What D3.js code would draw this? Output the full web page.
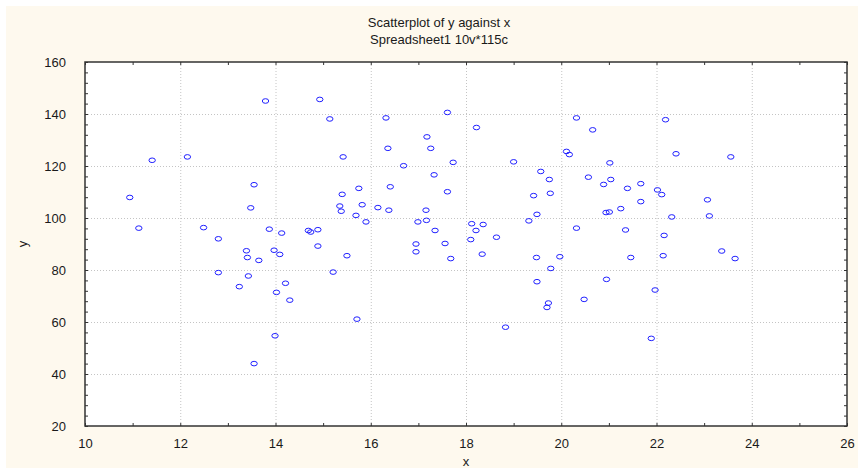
<!DOCTYPE html>
<html>
<head>
<meta charset="utf-8">
<script src="https://cdn.jsdelivr.net/npm/d3@7"></script>
<style>
  html, body { margin: 0; padding: 0; background: #fff; }
  svg text { font-family: "Liberation Sans", Arial, sans-serif; fill: #1a1a1a; }
</style>
</head>
<body>
<div id="chart"></div>
<script>
const titleLines = ["Scatterplot of y against x", "Spreadsheet1 10v*115c"];
const xLabel = "x";
const yLabel = "y";

const xTicks = [10, 12, 14, 16, 18, 20, 22, 24, 26];
const yTicks = [20, 40, 60, 80, 100, 120, 140, 160];

// 115 cases
const xs = [
  13.79, 11.41, 12.15, 13.55, 10.94, 13.48, 11.13, 12.49, 12.80, 13.87, 14.13, 13.39, 13.41, 13.65, 13.97, 14.09, 12.80, 13.43, 13.24, 14.02, 13.99, 13.55,
  14.93, 15.14, 16.32, 17.61, 18.22, 17.18, 16.36, 17.26, 15.42, 17.73, 16.69, 17.33, 15.75, 16.41, 17.61, 15.40, 15.35, 15.38, 15.82, 16.15, 16.38, 17.16, 15.69, 15.90, 16.99, 17.17, 17.35, 18.12, 18.21, 18.10,
  14.69, 14.74, 14.89, 14.89, 16.95, 16.95, 17.56, 17.68, 15.50, 15.21, 14.21, 14.30, 15.71,
  20.32, 22.19, 20.66, 20.11, 20.17,
  19.00, 21.02, 19.57, 19.75, 20.57, 20.89, 21.04, 21.67, 21.39, 22.02, 22.11, 19.42, 19.77, 21.67, 21.25, 20.94, 21.01, 19.49, 19.32, 22.32,
  18.36,
  18.64, 20.32, 21.35, 22.16, 18.34, 19.48, 19.97, 21.46, 22.14, 19.78, 19.49, 20.95, 21.97, 19.73, 19.70, 20.48, 18.83, 21.89,
  22.41, 23.56, 23.07, 23.11, 23.37, 23.65
];
const ys = [
  145.0, 122.2, 123.5, 112.8, 107.9, 103.9, 96.1, 96.3, 92.0, 95.7, 94.2, 87.4, 84.8, 83.7, 87.6, 86.0, 79.0, 77.7, 73.6, 71.4, 54.7, 44.0,
  145.6, 138.1, 138.5, 140.6, 134.8, 131.2, 126.8, 126.8, 123.5, 121.4, 120.1, 116.6, 111.4, 112.0, 110.1, 109.1, 104.6, 102.6, 105.1, 104.0, 103.0, 103.0, 101.0, 98.5, 98.5, 99.1, 95.2, 97.8, 95.2, 91.7,
  95.2, 94.6, 95.5, 89.2, 90.0, 87.0, 90.2, 84.4, 85.5, 79.2, 74.9, 68.4, 61.1,
  138.5, 137.8, 133.9, 125.6, 124.4,
  121.6, 121.2, 117.9, 114.8, 115.7, 112.9, 114.8, 113.2, 111.4, 110.8, 109.0, 108.6, 109.5, 106.3, 103.6, 102.1, 102.3, 101.4, 98.9, 100.4,
  97.5,
  92.6, 96.1, 95.4, 93.3, 86.1, 84.8, 85.1, 84.8, 85.5, 80.6, 75.5, 76.4, 72.3, 67.3, 65.6, 68.7, 58.0, 53.7,
  124.7, 123.5, 107.0, 100.8, 87.3, 84.4
];

const W = 858, H = 468;
const plot = { left: 85, right: 847, top: 62, bottom: 426 };

const svg = d3.select("#chart").append("svg")
  .attr("width", W).attr("height", H)
  .style("display", "block");

svg.append("rect").attr("x", 6).attr("y", 6).attr("width", W - 6).attr("height", H - 6)
  .attr("fill", "#fef9ee");

const x = d3.scaleLinear().domain([10, 26]).range([plot.left, plot.right]);
const y = d3.scaleLinear().domain([20, 160]).range([plot.bottom, plot.top]);

svg.append("rect")
  .attr("x", plot.left).attr("y", plot.top)
  .attr("width", plot.right - plot.left).attr("height", plot.bottom - plot.top)
  .attr("fill", "#fff");

// dotted grid
const grid = svg.append("g").attr("stroke", "#c4c4c4").attr("stroke-dasharray", "1,2").attr("stroke-width", 1);
grid.selectAll(".gx").data(xTicks.slice(1, -1)).join("line")
  .attr("x1", d => x(d) + 0.5).attr("x2", d => x(d) + 0.5)
  .attr("y1", plot.top).attr("y2", plot.bottom);
grid.selectAll(".gy").data(yTicks.slice(1, -1)).join("line")
  .attr("y1", d => Math.round(y(d)) + 0.5).attr("y2", d => Math.round(y(d)) + 0.5)
  .attr("x1", plot.left).attr("x2", plot.right);

// inward ticks on all four sides
const xMinor = d3.range(10, 26.01, 1);
const yMinor = d3.range(20, 160.01, 4);
const tickLen = 3;

function styleAxis(g) {
  g.select(".domain").remove();
  g.selectAll(".tick line").attr("stroke", "#333");
  g.selectAll(".tick text").style("font-size", "13px").attr("fill", "#1a1a1a");
}

svg.append("g").attr("transform", `translate(0,${plot.bottom})`)
  .call(d3.axisBottom(x).tickValues(xMinor).tickSize(-tickLen).tickFormat(""))
  .call(styleAxis);
svg.append("g").attr("transform", `translate(0,${plot.top})`)
  .call(d3.axisTop(x).tickValues(xMinor).tickSize(-tickLen).tickFormat(""))
  .call(styleAxis);
svg.append("g").attr("transform", `translate(${plot.left},0)`)
  .call(d3.axisLeft(y).tickValues(yMinor).tickSize(-tickLen).tickFormat(""))
  .call(styleAxis);
svg.append("g").attr("transform", `translate(${plot.right},0)`)
  .call(d3.axisRight(y).tickValues(yMinor).tickSize(-tickLen).tickFormat(""))
  .call(styleAxis);

// labels
svg.append("g").attr("transform", `translate(0,${plot.bottom})`)
  .call(d3.axisBottom(x).tickValues(xTicks).tickSize(0).tickPadding(13))
  .call(styleAxis);
svg.append("g").attr("transform", `translate(${plot.left},0)`)
  .call(d3.axisLeft(y).tickValues(yTicks).tickSize(0).tickPadding(19))
  .call(styleAxis);

// frame
svg.append("rect")
  .attr("x", plot.left).attr("y", plot.top)
  .attr("width", plot.right - plot.left).attr("height", plot.bottom - plot.top)
  .attr("fill", "none").attr("stroke", "#333").attr("stroke-width", 1.5);

// points
svg.append("g").selectAll("ellipse").data(d3.range(xs.length)).join("ellipse")
  .attr("cx", i => x(xs[i])).attr("cy", i => y(ys[i]))
  .attr("rx", 3.2).attr("ry", 2.3)
  .attr("fill", "none").attr("stroke", "#2020ff").attr("stroke-width", 1);

// titles
svg.selectAll(".title").data(titleLines).join("text")
  .attr("x", 439).attr("y", (d, i) => 27 + i * 17)
  .attr("text-anchor", "middle").style("font-size", "13px")
  .text(d => d);

svg.append("text").attr("x", (plot.left + plot.right) / 2).attr("y", 466)
  .attr("text-anchor", "middle").style("font-size", "13px").text(xLabel);
svg.append("text").attr("transform", `translate(27,${(plot.top + plot.bottom) / 2}) rotate(-90)`)
  .attr("text-anchor", "middle").style("font-size", "13px").text(yLabel);
</script>
</body>
</html>
